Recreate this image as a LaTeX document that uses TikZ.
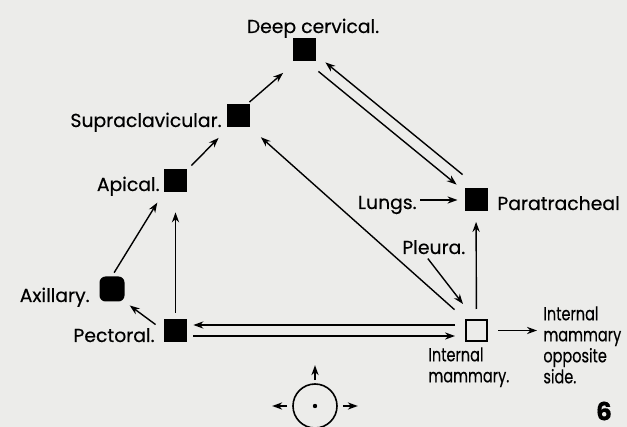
\documentclass[tikz,border=0pt]{standalone}
\usepackage{fontspec}
\setmainfont{Poppins}[FakeBold=0.4]
\newfontfamily\narrowfont{Poppins}[FakeBold=0.4,FakeStretch=0.77]
\usetikzlibrary{arrows.meta,positioning}
\definecolor{paper}{HTML}{ECECEA}

\begin{document}
\begin{tikzpicture}[x=0.5pt,y=-0.5pt,
    arr/.style={-{Stealth[length=5pt,width=3.6pt]},line width=0.7pt},
    gland/.style={fill=black,minimum size=11.5pt,inner sep=0pt},
    lbl/.style={inner sep=0pt,font=\fontsize{9.4}{10.5}\selectfont},
    narrow/.style={lbl,font=\narrowfont\fontsize{9.4}{10.5}\selectfont}]
    % Paper
    \fill[paper] (0,0) rectangle (627,427);
    \useasboundingbox (0,0) rectangle (627,427);

    % Gland groups
    \node[gland] (deep) at (304,50) {};
    \node[gland] (supra) at (238.5,116) {};
    \node[gland] (apical) at (175.5,180.5) {};
    \node[gland,minimum size=12.5pt,rounded corners=3pt] (axil) at (112,289) {};
    \node[gland] (pect) at (175.5,330.5) {};
    \node[gland] (para) at (476,200) {};
    \node[gland,fill=none,draw,line width=0.8pt,minimum size=10.7pt] (imam) at (476.5,330.5) {};

    % Labels
    \node[lbl,anchor=base] (deeplbl) at (313,33) {Deep cervical.};
    \node[lbl,anchor=base east] (supralbl) at (222,127) {Supraclavicular.};
    \node[lbl,anchor=base east] (apicallbl) at (160,191) {Apical.};
    \node[lbl,anchor=base east] (axillbl) at (90,302) {Axillary.};
    \node[lbl,anchor=base east] (pectlbl) at (155,342) {Pectoral.};
    \node[lbl,anchor=base west] (paralbl) at (497,210) {Paratracheal};
    \node[lbl,anchor=base east] (lungs) at (417,209) {Lungs.};
    \node[lbl,anchor=base west] (pleura) at (402,254) {Pleura.};
    \node[narrow,anchor=north west,align=left] (imamlbl) at (428,347) {Internal\\mammary.};
    \node[narrow,anchor=north west,align=left] (opposite) at (543,306) {Internal\\mammary\\opposite\\side.};
    \node[inner sep=0pt,font=\fontsize{12.5}{14}\selectfont\bfseries] (fig) at (604,411) {6};

    % Lymph flow
    \draw[arr] ([shift={(-1,-2)}]supra.north east) -- ([shift={(-9,11)}]deep.south west);
    \draw[arr] ([shift={(4,-3)}]apical.north east) -- ([shift={(-8,10)}]supra.south west);
    \draw[arr,shorten <=2pt,shorten >=6pt] (axil.north) -- (apical.south west);
    \draw[arr,shorten <=5pt,shorten >=3pt] (pect.west) -- (axil.south east);
    \draw[arr,shorten <=3pt,shorten >=10pt] (pect) -- (apical);
    \draw[arr,shorten <=7pt,shorten >=7pt] (imam.north west) -- (supra.south east);
    \draw[arr] ([shift={(-1.5,-13.5)}]para.north west) -- ([shift={(9.5,0.5)}]deep.south east);
    \draw[arr] ([shift={(2.5,9.5)}]deep.south east) -- ([shift={(-7.5,-3.5)}]para.north west);
    \draw[arr,shorten <=1.5pt,shorten >=3.3pt] (lungs.east |- para) -- (para.west);
    \draw[arr] ([shift={(-6,4)}]pleura.south) -- ([shift={(-2,-15)}]imam.north west);
    \draw[arr,shorten <=5pt,shorten >=5pt] (imam) -- (para);
    \draw[arr] ([shift={(-10,-5.5)}]imam.west) -- ([shift={(6,-5.5)}]pect.east);
    \draw[arr] ([shift={(6,5.5)}]pect.east) -- ([shift={(-10,5.5)}]imam.west);
    \draw[arr,shorten <=5pt,shorten >=3pt] (imam.east) -- (imam.east -| opposite.west);

    % Orientation
    \node[draw,circle,line width=0.8pt,minimum size=22pt,inner sep=0pt] (compass) at (315,406) {};
    \fill (compass.center) circle (1.1pt);
    \draw[arr] ([shift={(0,-3)}]compass.north) -- +(0,-15);
    \draw[arr] ([shift={(-5,0)}]compass.west) -- +(-15,0);
    \draw[arr] ([shift={(5,0)}]compass.east) -- +(15,0);
\end{tikzpicture}
\end{document}
